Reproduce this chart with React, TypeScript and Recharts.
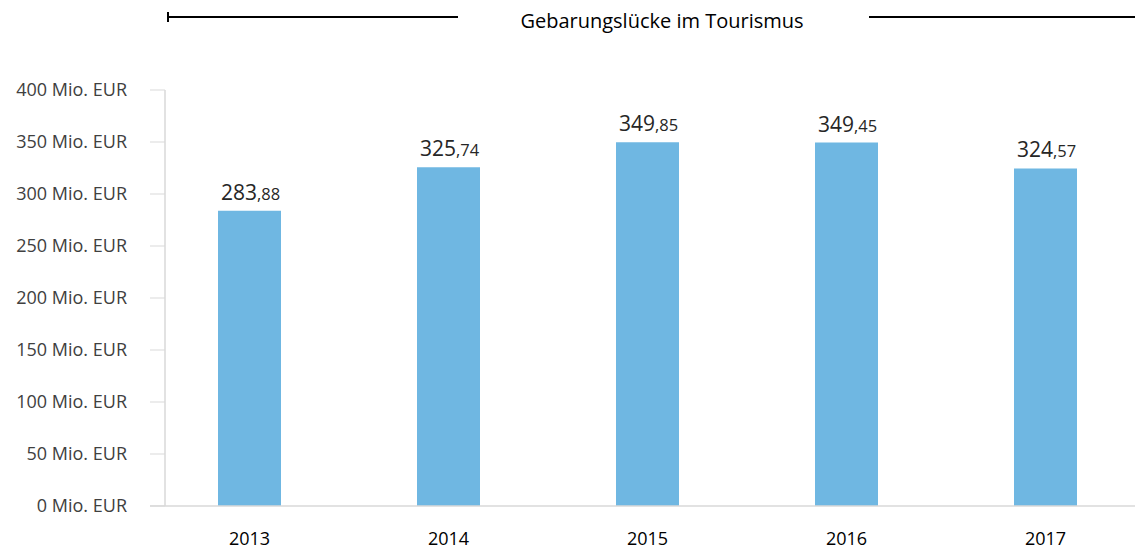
import React from "react";
import { BarChart, Bar, XAxis, YAxis, LabelList } from "recharts";

const years = ["2013", "2014", "2015", "2016", "2017"];
const values = [283.88, 325.74, 349.85, 349.45, 324.57];
const yTicks = [0, 50, 100, 150, 200, 250, 300, 350, 400];
const title = "Gebarungslücke im Tourismus";

const data = years.map((y, i) => ({ year: y, value: values[i] }));

const FONT = "'Open Sans', 'Noto Sans', sans-serif";

const renderLabel = (props: any) => {
  const { x, y, width, value } = props;
  const [intPart, decPart] = Number(value).toFixed(2).split(".");
  return (
    <text
      x={Number(x) + Number(width) / 2 + 1}
      y={Number(y) - 11}
      textAnchor="middle"
      fontFamily={FONT}
      fill="#262626"
    >
      <tspan fontSize={21}>{intPart}</tspan>
      <tspan fontSize={16.5}>{"," + decPart}</tspan>
    </text>
  );
};

export default function App() {
  return (
    <div
      style={{
        position: "absolute",
        left: 0,
        top: 0,
        width: 1135,
        height: 550,
        overflow: "hidden",
        background: "#fff",
      }}
    >
      <svg
        width={1135}
        height={50}
        style={{ position: "absolute", left: 0, top: 0 }}
      >
        <line x1={168} y1={17} x2={458} y2={17} stroke="#000" strokeWidth={2} />
        <line x1={168} y1={12} x2={168} y2={22} stroke="#000" strokeWidth={2} />
        <line x1={869} y1={17} x2={1135} y2={17} stroke="#000" strokeWidth={2} />
        <text
          x={662}
          y={28}
          textAnchor="middle"
          fontFamily={FONT}
          fontSize={20}
          fill="#000"
        >
          {title}
        </text>
      </svg>
      <div style={{ position: "absolute", left: 0, top: 0 }}>
        <BarChart
          width={1145}
          height={550}
          data={data}
          margin={{ top: 90, right: 0, bottom: 0, left: 0 }}
          barCategoryGap={0}
        >
          <XAxis
            dataKey="year"
            height={44}
            tickLine={false}
            tickSize={0}
            tickMargin={26}
            axisLine={{ stroke: "#d9d9d9", strokeWidth: 1.5 }}
            tick={{ fontFamily: FONT, fontSize: 18, fill: "#000" }}
            interval={0}
          />
          <YAxis
            width={150}
            domain={[0, 400]}
            ticks={yTicks}
            interval={0}
            tickSize={15}
            tickMargin={8}
            tickFormatter={(v: number) => `${v} Mio. EUR`}
            axisLine={{ stroke: "#d9d9d9", strokeWidth: 1.5, transform: "translate(15,0)" }}
            tickLine={{ stroke: "#d9d9d9", strokeWidth: 1, transform: "translate(15,0)" }}
            tick={{ fontFamily: FONT, fontSize: 18, fill: "#404040" }}
          />
          <Bar dataKey="value" fill="#6fb7e2" barSize={63} isAnimationActive={false}>
            <LabelList dataKey="value" content={renderLabel} />
          </Bar>
        </BarChart>
      </div>
    </div>
  );
}
